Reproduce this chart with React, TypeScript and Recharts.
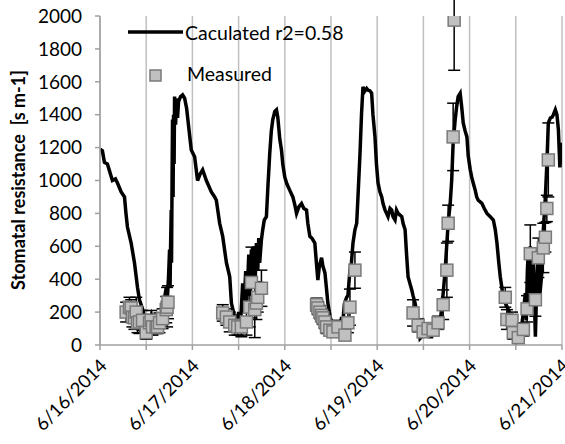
import React from 'react';
import { ComposedChart, Line, Scatter, XAxis, YAxis, CartesianGrid, ErrorBar, Customized } from 'recharts';

const dateLabels = ['6/16/2014', '6/17/2014', '6/18/2014', '6/19/2014', '6/20/2014', '6/21/2014'];
const xTicks = [0, 0.5, 1, 1.5, 2, 2.5, 3, 3.5, 4, 4.5, 5];
const yTicks = [0, 200, 400, 600, 800, 1000, 1200, 1400, 1600, 1800, 2000];

const calcDay = [
  0, 0.026, 0.048, 0.08, 0.102, 0.134, 0.167, 0.189, 0.229, 0.265, 0.281, 0.297, 0.337, 0.373, 0.406, 0.427,
  0.46, 0.492, 0.525, 0.557, 0.59, 0.623, 0.655, 0.688, 0.717, 0.731, 0.742, 0.753, 0.758, 0.764, 0.771, 0.774,
  0.78, 0.785, 0.791, 0.796, 0.802, 0.807, 0.818, 0.829, 0.839, 0.85, 0.872, 0.894, 0.916, 0.937, 0.959, 0.988,
  1.024, 1.056, 1.084, 1.111, 1.151, 1.205, 1.241, 1.259, 1.295, 1.328, 1.368, 1.404, 1.422, 1.458, 1.476,
  1.501, 1.523, 1.544, 1.555, 1.577, 1.588, 1.61, 1.62, 1.639, 1.653, 1.664, 1.68, 1.693, 1.707, 1.718, 1.728,
  1.747, 1.761, 1.778, 1.801, 1.816, 1.837, 1.854, 1.87, 1.892, 1.91, 1.924, 1.946, 1.964, 1.978, 2.0, 2.022,
  2.054, 2.087, 2.109, 2.127, 2.152, 2.181, 2.206, 2.235, 2.249, 2.271, 2.293, 2.325, 2.342, 2.358, 2.374, 2.398,
  2.412, 2.434, 2.45, 2.466, 2.488, 2.506, 2.531, 2.564, 2.586, 2.615, 2.629, 2.645, 2.669, 2.683, 2.705, 2.721,
  2.738, 2.759, 2.778, 2.792, 2.814, 2.83, 2.846, 2.862, 2.886, 2.9, 2.922, 2.94, 2.954, 2.976, 2.992, 3.009,
  3.03, 3.049, 3.063, 3.085, 3.101, 3.117, 3.139, 3.157, 3.171, 3.193, 3.209, 3.226, 3.247, 3.266, 3.28, 3.302,
  3.318, 3.334, 3.356, 3.374, 3.388, 3.41, 3.432, 3.453, 3.464, 3.497, 3.529, 3.562, 3.591, 3.616, 3.649, 3.681,
  3.697, 3.714, 3.735, 3.754, 3.768, 3.79, 3.806, 3.822, 3.844, 3.86, 3.876, 3.898, 3.914, 3.931, 3.952, 3.971,
  3.985, 4.007, 4.023, 4.039, 4.061, 4.077, 4.093, 4.115, 4.134, 4.159, 4.188, 4.224, 4.257, 4.278, 4.296, 4.316,
  4.332, 4.349, 4.364, 4.392, 4.419, 4.446, 4.473, 4.495, 4.513, 4.538, 4.56, 4.582, 4.603, 4.614, 4.625, 4.636,
  4.646, 4.657, 4.676, 4.69, 4.712, 4.728, 4.744, 4.76, 4.784, 4.798, 4.82, 4.836, 4.852, 4.874, 4.893, 4.907,
  4.928, 4.945, 4.961, 4.977, 5.0,
];
const calcValue = [
  1190, 1180, 1110, 1100, 1060, 1000, 1010, 985, 930, 900, 800, 717, 620, 500, 350, 275,
  220, 150, 120, 180, 100, 200, 120, 250, 350, 300, 420, 580, 350, 600, 820, 500,
  1000, 1370, 900, 1400, 1100, 1510, 1340, 1500, 1380, 1480, 1510, 1520, 1500, 1440, 1330, 1185,
  1145, 1000, 1040, 1065, 1000, 930, 900, 880, 740, 660, 500, 415, 255, 170, 135,
  200, 150, 375, 200, 450, 250, 550, 300, 580, 350, 600, 400, 620, 450, 650, 500,
  640, 700, 760, 780, 950, 1165, 1300, 1370, 1420, 1430, 1385, 1250, 1185, 1100, 1020, 980,
  940, 900, 850, 800, 840, 860, 830, 820, 740, 660, 650, 620, 500, 395, 480, 530,
  480, 440, 350, 255, 180, 135, 100, 120, 90, 170, 140, 250, 290, 300, 455, 500,
  620, 700, 740, 900, 1165, 1400, 1570, 1540, 1560, 1550, 1545, 1530, 1400, 1265, 1100, 985,
  930, 900, 860, 820, 800, 780, 830, 820, 780, 760, 820, 800, 790, 780, 740, 700,
  550, 415, 370, 335, 300, 255, 180, 100, 40, 60, 70, 50, 50, 80, 100, 135,
  220, 315, 450, 620, 740, 860, 1000, 1230, 1370, 1450, 1510, 1530, 1450, 1350, 1300, 1265,
  1150, 1065, 1020, 985, 940, 900, 880, 870, 860, 830, 800, 780, 760, 700, 620, 500,
  415, 350, 290, 250, 215, 180, 150, 100, 30, 60, 100, 200, 315, 150, 450, 580,
  250, 600, 215, 500, 50, 400, 580, 300, 455, 700, 900, 1100, 1350, 1380, 1385, 1400,
  1430, 1400, 1310, 1080, 1230,
];

const measDay = [
  0.283, 0.319, 0.337, 0.351, 0.373, 0.392, 0.406, 0.427, 0.46, 0.5, 0.536, 0.554, 0.568, 0.608, 0.623, 0.644, 0.677, 0.717, 0.726, 0.736,
  1.328, 1.368, 1.404, 1.458, 1.49, 1.53, 1.585, 1.62, 1.639, 1.675, 1.693, 1.707, 1.747,
  2.344, 2.358, 2.38, 2.398, 2.412, 2.434, 2.452, 2.488, 2.521, 2.575, 2.651, 2.683, 2.705, 2.759,
  3.388, 3.443, 3.497, 3.551, 3.605, 3.659, 3.714, 3.754, 3.768, 3.822, 3.833,
  4.386, 4.404, 4.459, 4.473, 4.527, 4.582, 4.622, 4.657, 4.712, 4.744, 4.798, 4.82, 4.836, 4.852,
];
const measValue = [
  200, 230, 225, 170, 165, 200, 135, 140, 150, 75, 135, 150, 110, 110, 110, 135, 160, 215, 230, 260,
  195, 170, 140, 120, 110, 110, 140, 230, 380, 215, 255, 290, 345,
  245, 225, 200, 180, 165, 140, 110, 90, 80, 110, 60, 135, 230, 455,
  195, 120, 80, 100, 90, 135, 245, 455, 740, 1265, 1975,
  290, 155, 150, 75, 45, 95, 220, 555, 275, 530, 590, 655, 830, 1125,
];
const measError = [
  60, 60, 50, 60, 70, 90, 60, 70, 60, 40, 50, 60, 50, 40, 40, 60, 60, 80, 120, 100,
  50, 50, 60, 60, 50, 60, 80, 120, 215, 170, 100, 90, 110,
  40, 40, 40, 40, 40, 40, 40, 30, 30, 40, 30, 60, 110, 110,
  80, 40, 30, 30, 30, 40, 90, 165, 110, 205, 305,
  60, 60, 50, 40, 30, 40, 80, 175, 100, 120, 150, 90, 80, 225,
];

const calcData = calcDay.map((d, i) => ({ d, v: calcValue[i] }));
const measData = measDay.map((d, i) => ({ d, v: measValue[i], e: measError[i] }));

const FONT = 'Lato';
const AXIS_GRAY = '#a0a0a0';

const XTick = (props: any) => {
  const { x, y, payload } = props;
  const val = payload.value;
  if (!Number.isInteger(val)) return null;
  const ax = x + 8;
  const ay = y + 17;
  return (
    <text x={ax} y={ay} transform={`rotate(-45 ${ax} ${ay})`} textAnchor="end" fontFamily={FONT} fontSize={18.5} fill="#000">
      {dateLabels[val]}
    </text>
  );
};

const Square = (props: any) => {
  const { cx, cy } = props;
  if (cx == null || cy == null) return null;
  return <rect x={cx - 6} y={cy - 6} width={12} height={12} fill="#c0c0c0" stroke="#7a7a7a" strokeWidth={1.5} />;
};

const Decorations = () => (
  <g>
    <text x={25} y={180} transform="rotate(-90 25 180)" textAnchor="middle" fontFamily={FONT} fontWeight="bold" fontSize={18} fill="#000" style={{ whiteSpace: 'pre' }}>
      {'Stomatal resistance  [s m-1]'}
    </text>
    <line x1={128} y1={32} x2={183} y2={32} stroke="#000" strokeWidth={3.5} />
    <text x={185} y={40} fontFamily={FONT} fontSize={19.5} fill="#000">Caculated r2=0.58</text>
    <rect x={150} y={70} width={11} height={11} fill="#c0c0c0" stroke="#7a7a7a" strokeWidth={1.5} />
    <text x={187} y={81} fontFamily={FONT} fontSize={19.5} fill="#000">Measured</text>
  </g>
);

const gridX = (props: any) => {
  const off = props.offset || {};
  const left = off.left ?? 100;
  const w = off.width ?? 462;
  return xTicks.map((t) => left + (t / 5) * w);
};

export default function App() {
  return (
    <div style={{ position: 'absolute', left: 0, top: 0, width: 565, height: 444, background: '#fff' }}>
      <ComposedChart width={565} height={444} margin={{ top: 16, right: 3, left: 0, bottom: 0 }}>
        <CartesianGrid horizontal={false} vertical={true} verticalCoordinatesGenerator={gridX} stroke="#c0c0c0" strokeWidth={1.5} />
        <XAxis
          dataKey="d"
          type="number"
          domain={[0, 5]}
          ticks={xTicks}
          allowDataOverflow
          interval={0}
          height={99}
          tick={<XTick />}
          tickSize={5}
          tickMargin={0}
          axisLine={{ stroke: AXIS_GRAY, strokeWidth: 1.5 }}
          tickLine={{ stroke: AXIS_GRAY, strokeWidth: 1.5 }}
        />
        <YAxis
          type="number"
          domain={[0, 2000]}
          ticks={yTicks}
          allowDataOverflow
          interval={0}
          width={100}
          tickSize={5}
          tickMargin={13}
          tick={{ fontFamily: FONT, fontSize: 19, fill: '#000' }}
          axisLine={{ stroke: AXIS_GRAY, strokeWidth: 1.5 }}
          tickLine={{ stroke: AXIS_GRAY, strokeWidth: 1.5 }}
        />
        <Line data={calcData} dataKey="v" type="linear" stroke="#000" strokeWidth={3.5} dot={false} activeDot={false} isAnimationActive={false} />
        <Scatter data={measData} dataKey="v" shape={<Square />} isAnimationActive={false}>
          <ErrorBar dataKey="e" direction="y" width={6} stroke="#000" strokeWidth={1.5} />
        </Scatter>
        <Customized component={Decorations} />
      </ComposedChart>
    </div>
  );
}
